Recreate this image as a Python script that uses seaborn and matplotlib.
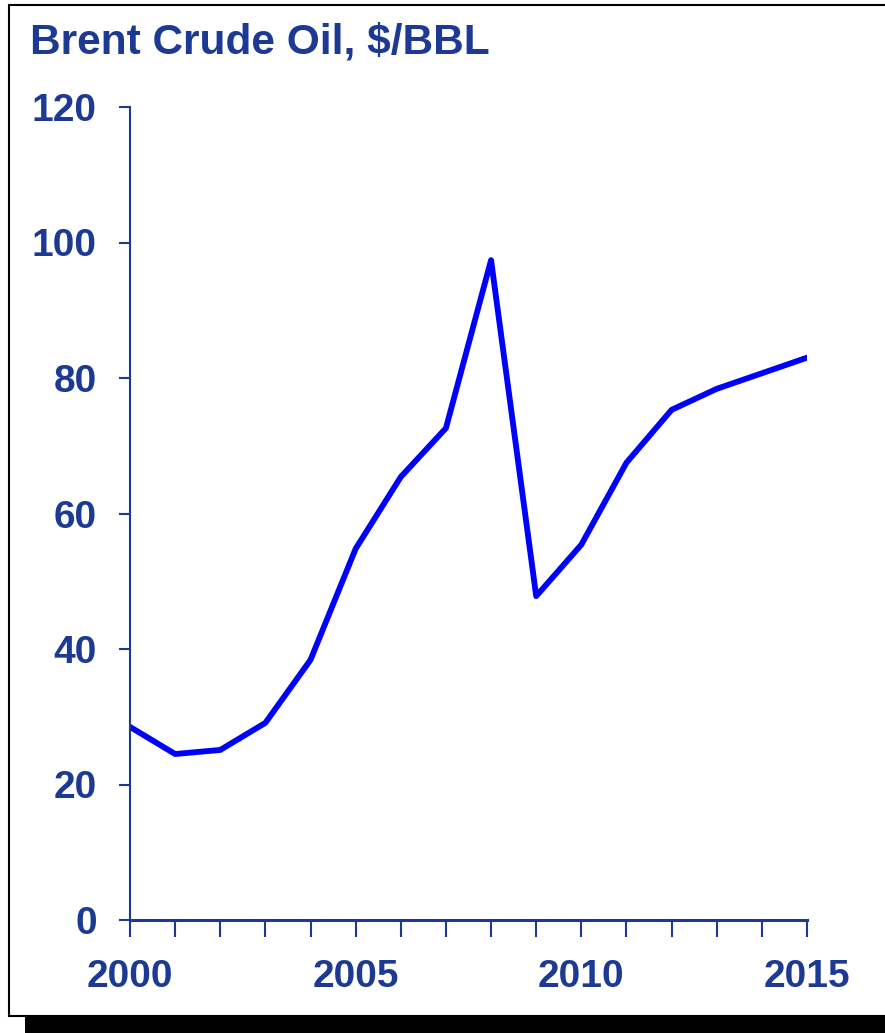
import matplotlib
matplotlib.use("Agg")
import matplotlib.pyplot as plt
from matplotlib.patches import Rectangle
import seaborn as sns
import pandas as pd

years = list(range(2000, 2016))
prices = [28.5, 24.5, 25.1, 29.1, 38.4, 54.8, 65.4, 72.6, 97.4, 47.8, 55.4, 67.5, 75.3, 78.4, 80.7, 83.0]
x_labels = {2000: "2000", 2005: "2005", 2010: "2010", 2015: "2015"}
y_ticks = [0, 20, 40, 60, 80, 100, 120]
title = "Brent Crude Oil, $/BBL"

sns.set_style("white")
plt.rcParams['font.family'] = ['Liberation Sans', 'DejaVu Sans']

W, H = 885, 1033
fig = plt.figure(figsize=(W / 100, H / 100), dpi=100)
navy = "#1c3a94"

# frame and shadow
fig.patches.append(Rectangle((25 / W, 0), 1, 16 / H, transform=fig.transFigure,
                             facecolor="black", edgecolor="none", zorder=-3))
fig.patches.append(Rectangle((9 / W, 1 - 1016 / H), 1, (1016 - 5) / H, transform=fig.transFigure,
                             facecolor="white", edgecolor="black", linewidth=1.5, zorder=-2))

ax = fig.add_axes([130 / W, 1 - 920 / H, (807 - 130) / W, (920 - 107) / H])
ax.set_facecolor("none")
ax.set_zorder(2)
df = pd.DataFrame({"year": years, "price": prices})
sns.lineplot(data=df, x="year", y="price", ax=ax, color="#0000ff", linewidth=4.2)

ax.set_xlim(2000, 2015)
ax.set_ylim(0, 120)
ax.set_xticks(years)
ax.set_xticklabels([x_labels.get(y, "") for y in years])
ax.set_yticks(y_ticks)
ax.set_yticklabels([str(v) for v in y_ticks])
ax.set_xlabel("")
ax.set_ylabel("")

for s in ["top", "right"]:
    ax.spines[s].set_visible(False)
for s in ["left", "bottom"]:
    ax.spines[s].set_color(navy)
ax.spines["left"].set_linewidth(1.5)
ax.spines["bottom"].set_linewidth(2.2)

ax.tick_params(axis="x", direction="out", length=12, width=1.5, color=navy,
               labelcolor=navy, labelsize=28, pad=16, bottom=True)
ax.tick_params(axis="y", direction="out", length=8, width=1.5, color=navy,
               labelcolor=navy, labelsize=28, pad=16, left=True)
for lab in ax.get_xticklabels() + ax.get_yticklabels():
    lab.set_fontweight("bold")

fig.text(30 / W, 1 - 42 / H, title, color=navy, fontsize=30.5, fontweight="bold",
         va="center", ha="left", zorder=3)

fig.savefig("out.png", dpi=100)
